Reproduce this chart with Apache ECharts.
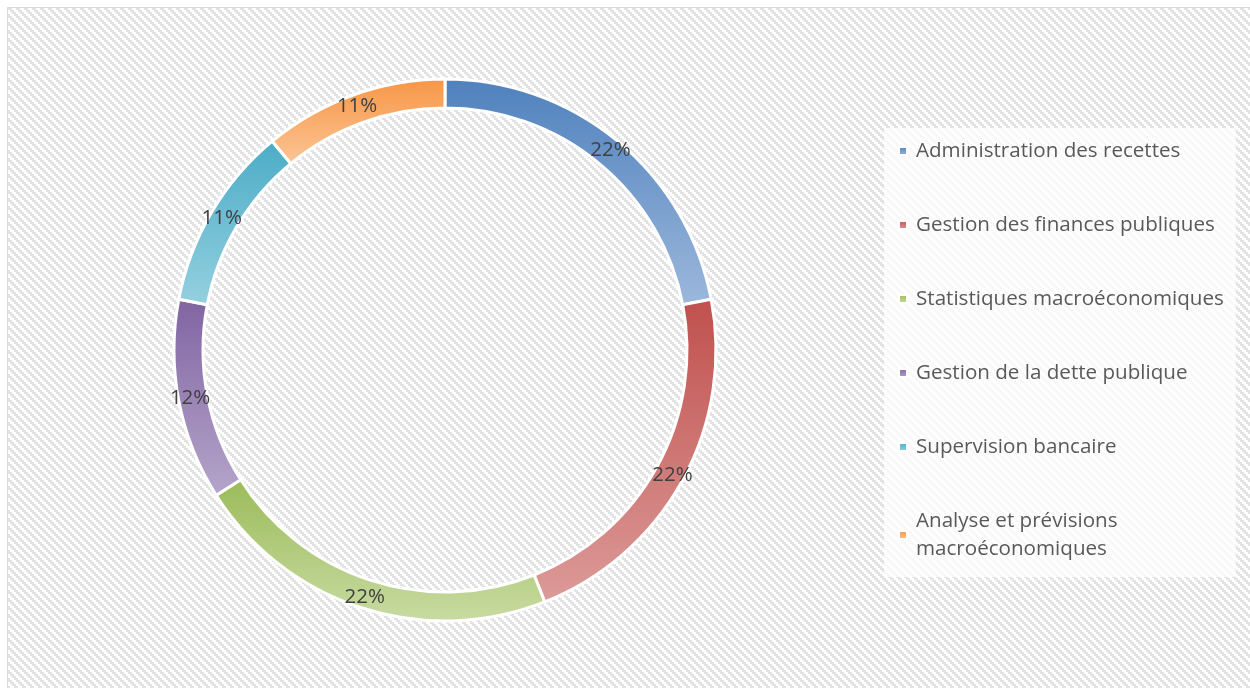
<!DOCTYPE html>
<html>
<head>
<meta charset="utf-8">
<script src="https://cdn.jsdelivr.net/npm/echarts@6/dist/echarts.min.js"></script>
<style>
html,body{margin:0;padding:0;background:#fff;}
#chart{width:1250px;height:688px;}
</style>
</head>
<body>
<div id="chart"></div>
<script>
const categories = [
  "Administration des recettes",
  "Gestion des finances publiques",
  "Statistiques macroéconomiques",
  "Gestion de la dette publique",
  "Supervision bancaire",
  "Analyse et prévisions macroéconomiques"
];
const shares = [22, 22, 22, 12, 11, 11];
const topColors = ["#4F81BD", "#C0504D", "#9BBB59", "#8064A2", "#4BACC6", "#F79646"];
const bottomColors = ["#9CB8DC", "#DC9B99", "#C8DBA2", "#B5A5CA", "#95D0E0", "#FBC595"];

const FONT = "'Open Sans', 'Liberation Sans', sans-serif";

// hatch pattern (stair-stepped diagonal stripes)
const tile = document.createElement('canvas');
tile.width = 8; tile.height = 8;
const tctx = tile.getContext('2d');
tctx.fillStyle = '#ffffff';
tctx.fillRect(0, 0, 8, 8);
tctx.fillStyle = '#e3e3e3';
for (let y = 0; y < 8; y++) {
  for (let x = 0; x < 8; x++) {
    const k = ((Math.floor(x / 2) - Math.floor(y / 2)) % 4 + 4) % 4;
    if (k < 2) tctx.fillRect(x, y, 1, 1);
  }
}

const legendNames = {
  "Analyse et prévisions macroéconomiques": "Analyse et prévisions\nmacroéconomiques"
};

const chart = echarts.init(document.getElementById('chart'), null, {renderer: 'canvas'});
chart.setOption({
  animation: false,
  backgroundColor: '#ffffff',
  graphic: [{
    type: 'rect',
    z: -10,
    silent: true,
    shape: {x: 7.5, y: 7.5, width: 1260, height: 700},
    style: {fill: {image: tile, repeat: 'repeat'}, stroke: '#d9d9d9', lineWidth: 1}
  }],
  legend: {
    orient: 'vertical',
    left: 884,
    top: 128,
    icon: 'rect',
    itemWidth: 8,
    itemHeight: 8,
    itemGap: 46,
    padding: [9, 12, 14, 14],
    backgroundColor: 'rgba(255,255,255,0.75)',
    formatter: function (n) { return legendNames[n] || n; },
    textStyle: {
      fontFamily: FONT,
      fontSize: 20.6,
      color: '#595959',
      lineHeight: 28,
      padding: [0, 0, 0, 4]
    },
    data: categories
  },
  series: [{
    type: 'pie',
    center: [445, 350],
    radius: [242, 271],
    startAngle: 90,
    clockwise: true,
    avoidLabelOverlap: false,
    itemStyle: {borderColor: '#ffffff', borderWidth: 3},
    label: {
      show: true,
      position: 'inside',
      formatter: '{c}%',
      fontFamily: FONT,
      fontSize: 20.5,
      color: '#404040'
    },
    labelLine: {show: false},
    emphasis: {disabled: true},
    data: categories.map(function (name, i) {
      return {
        name: name,
        value: shares[i],
        itemStyle: {
          color: new echarts.graphic.LinearGradient(0, 0, 0, 1, [
            {offset: 0, color: topColors[i]},
            {offset: 1, color: bottomColors[i]}
          ])
        }
      };
    })
  }]
});
</script>
</body>
</html>
